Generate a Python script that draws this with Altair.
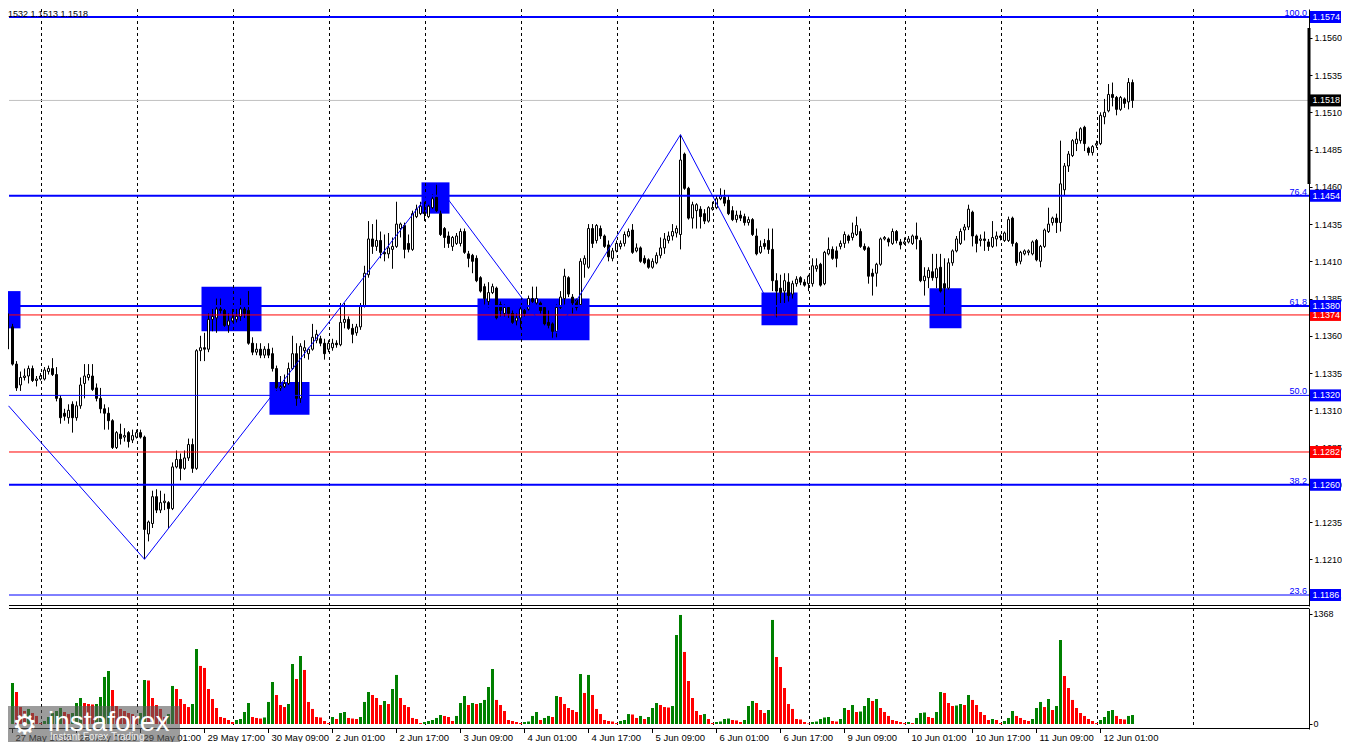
import altair as alt
import pandas as pd

FIRST_BAR = -3  # bar index of the first (left-most) hourly candle; bar 0 = 27 May 17:00

opens = [
    1.1345, 1.1352, 1.1361,
    1.1366, 1.1341, 1.1327, 1.1332, 1.1333, 1.1338, 1.1330, 1.1331, 1.1331, 1.1336,
    1.1338, 1.1334, 1.1318, 1.1308, 1.1305, 1.1314, 1.1305, 1.1313, 1.1328, 1.1332,
    1.1333, 1.1325, 1.1318, 1.1311, 1.1308, 1.1303, 1.1285, 1.1294, 1.1292, 1.1295,
    1.1290, 1.1292, 1.1295, 1.1292, 1.1227, 1.1234, 1.1252, 1.1243, 1.1248, 1.1248,
    1.1244, 1.1272, 1.1277, 1.1271, 1.1278, 1.1287, 1.1271, 1.1350, 1.1352, 1.1351,
    1.1371, 1.1372, 1.1378, 1.1377, 1.1367, 1.1370, 1.1371, 1.1373, 1.1378, 1.1377,
    1.1355, 1.1349, 1.1351, 1.1347, 1.1351, 1.1348, 1.1338, 1.1325, 1.1326, 1.1328,
    1.1338, 1.1348, 1.1318, 1.1350, 1.1348, 1.1351, 1.1357, 1.1358, 1.1355, 1.1351,
    1.1352, 1.1355, 1.1354, 1.1369, 1.1371, 1.1365, 1.1362, 1.1366, 1.1380, 1.1401,
    1.1425, 1.1420, 1.1424, 1.1416, 1.1415, 1.1418, 1.1420, 1.1432, 1.1434, 1.1422,
    1.1418, 1.1440, 1.1442, 1.1443, 1.1440, 1.1446, 1.1453, 1.1442, 1.1432, 1.1427,
    1.1420, 1.1422, 1.1422, 1.1430, 1.1415, 1.1414, 1.1412, 1.1399, 1.1393, 1.1383,
    1.1389, 1.1392, 1.1381, 1.1375, 1.1379, 1.1375, 1.1370, 1.1372, 1.1377, 1.1378,
    1.1385, 1.1382, 1.1382, 1.1379, 1.1369, 1.1368, 1.1363, 1.1379, 1.1385, 1.1399,
    1.1386, 1.1384, 1.1381, 1.1408, 1.1406, 1.1432, 1.1424, 1.1432, 1.1427, 1.1421,
    1.1412, 1.1417, 1.1420, 1.1422, 1.1427, 1.1431, 1.1417, 1.1419, 1.1412, 1.1411,
    1.1406, 1.1409, 1.1414, 1.1419, 1.1424, 1.1427, 1.1429, 1.1428, 1.1482, 1.1459,
    1.1439, 1.1444, 1.1445, 1.1442, 1.1437, 1.1445, 1.1446, 1.1452, 1.1453, 1.1451,
    1.1444, 1.1438, 1.1441, 1.1440, 1.1436, 1.1438, 1.1427, 1.1416, 1.1422, 1.1424,
    1.1418, 1.1397, 1.1392, 1.1390, 1.1396, 1.1388, 1.1395, 1.1399, 1.1396, 1.1395,
    1.1395, 1.1405, 1.1408, 1.1395, 1.1415, 1.1418, 1.1417, 1.1420, 1.1422, 1.1427,
    1.1426, 1.1428, 1.1430, 1.1420, 1.1419, 1.1402, 1.1402, 1.1408, 1.1425, 1.1425,
    1.1422, 1.1430, 1.1423, 1.1422, 1.1423, 1.1422, 1.1427, 1.1424, 1.1397, 1.1399,
    1.1403, 1.1399, 1.1406, 1.1395, 1.1392, 1.1409, 1.1417, 1.1422, 1.1431, 1.1433,
    1.1443, 1.1427, 1.1424, 1.1425, 1.1423, 1.1420, 1.1425, 1.1427, 1.1424, 1.1424,
    1.1439, 1.1422, 1.1410, 1.1415, 1.1416, 1.1415, 1.1424, 1.1410, 1.1420, 1.1430,
    1.1436, 1.1439, 1.1436, 1.1458, 1.1474, 1.1481, 1.1489, 1.1491, 1.1500, 1.1486,
    1.1483, 1.1488, 1.1489, 1.1507, 1.1511, 1.1522, 1.1520, 1.1512, 1.1519, 1.1517,
    1.1530,
]
highs = [
    1.1353, 1.1369, 1.1375,
    1.1368, 1.1343, 1.1336, 1.1338, 1.1340, 1.1340, 1.1333, 1.1335, 1.1339, 1.1340,
    1.1345, 1.1339, 1.1320, 1.1311, 1.1314, 1.1316, 1.1316, 1.1332, 1.1341, 1.1341,
    1.1341, 1.1328, 1.1325, 1.1314, 1.1312, 1.1304, 1.1296, 1.1301, 1.1298, 1.1296,
    1.1297, 1.1297, 1.1297, 1.1293, 1.1236, 1.1256, 1.1257, 1.1256, 1.1254, 1.1249,
    1.1275, 1.1283, 1.1281, 1.1283, 1.1291, 1.1291, 1.1351, 1.1360, 1.1362, 1.1375,
    1.1378, 1.1385, 1.1385, 1.1378, 1.1375, 1.1378, 1.1378, 1.1385, 1.1380, 1.1390,
    1.1359, 1.1355, 1.1355, 1.1353, 1.1355, 1.1352, 1.1340, 1.1333, 1.1334, 1.1342,
    1.1360, 1.1355, 1.1355, 1.1357, 1.1352, 1.1368, 1.1364, 1.1360, 1.1358, 1.1357,
    1.1358, 1.1357, 1.1382, 1.1382, 1.1373, 1.1368, 1.1368, 1.1382, 1.1407, 1.1437,
    1.1435, 1.1438, 1.1430, 1.1428, 1.1429, 1.1426, 1.1450, 1.1436, 1.1436, 1.1428,
    1.1444, 1.1448, 1.1450, 1.1450, 1.1448, 1.1455, 1.1462, 1.1444, 1.1433, 1.1430,
    1.1427, 1.1429, 1.1432, 1.1432, 1.1417, 1.1415, 1.1414, 1.1400, 1.1395, 1.1396,
    1.1395, 1.1393, 1.1383, 1.1381, 1.1380, 1.1377, 1.1375, 1.1380, 1.1378, 1.1387,
    1.1393, 1.1393, 1.1383, 1.1380, 1.1377, 1.1369, 1.1381, 1.1390, 1.1405, 1.1400,
    1.1388, 1.1385, 1.1412, 1.1414, 1.1435, 1.1435, 1.1435, 1.1434, 1.1428, 1.1424,
    1.1419, 1.1424, 1.1424, 1.1430, 1.1432, 1.1435, 1.1422, 1.1420, 1.1414, 1.1412,
    1.1412, 1.1416, 1.1426, 1.1429, 1.1430, 1.1435, 1.1434, 1.1495, 1.1483, 1.1460,
    1.1450, 1.1449, 1.1447, 1.1445, 1.1447, 1.1450, 1.1454, 1.1459, 1.1458, 1.1454,
    1.1447, 1.1444, 1.1444, 1.1442, 1.1440, 1.1439, 1.1432, 1.1424, 1.1425, 1.1432,
    1.1432, 1.1402, 1.1401, 1.1402, 1.1402, 1.1397, 1.1400, 1.1400, 1.1398, 1.1401,
    1.1412, 1.1412, 1.1409, 1.1417, 1.1426, 1.1420, 1.1420, 1.1424, 1.1430, 1.1428,
    1.1436, 1.1440, 1.1432, 1.1422, 1.1420, 1.1405, 1.1409, 1.1426, 1.1427, 1.1426,
    1.1432, 1.1431, 1.1425, 1.1426, 1.1427, 1.1428, 1.1436, 1.1426, 1.1406, 1.1406,
    1.1415, 1.1415, 1.1415, 1.1412, 1.1412, 1.1418, 1.1427, 1.1432, 1.1435, 1.1448,
    1.1444, 1.1428, 1.1428, 1.1430, 1.1425, 1.1437, 1.1430, 1.1428, 1.1430, 1.1440,
    1.1440, 1.1423, 1.1417, 1.1418, 1.1418, 1.1424, 1.1425, 1.1421, 1.1432, 1.1446,
    1.1440, 1.1442, 1.1491, 1.1476, 1.1484, 1.1492, 1.1497, 1.1500, 1.1501, 1.1487,
    1.1488, 1.1491, 1.1510, 1.1519, 1.1529, 1.1530, 1.1521, 1.1521, 1.1520, 1.1533,
    1.1532,
]
lows = [
    1.1342, 1.1351, 1.1351,
    1.1340, 1.1323, 1.1323, 1.1330, 1.1328, 1.1329, 1.1326, 1.1330, 1.1330, 1.1334,
    1.1333, 1.1316, 1.1301, 1.1303, 1.1301, 1.1295, 1.1303, 1.1311, 1.1318, 1.1330,
    1.1323, 1.1316, 1.1308, 1.1297, 1.1297, 1.1284, 1.1284, 1.1287, 1.1289, 1.1285,
    1.1288, 1.1291, 1.1291, 1.1210, 1.1222, 1.1231, 1.1241, 1.1241, 1.1243, 1.1231,
    1.1243, 1.1271, 1.1263, 1.1270, 1.1276, 1.1268, 1.1270, 1.1343, 1.1343, 1.1349,
    1.1363, 1.1362, 1.1375, 1.1366, 1.1362, 1.1369, 1.1369, 1.1370, 1.1372, 1.1354,
    1.1347, 1.1347, 1.1345, 1.1345, 1.1345, 1.1336, 1.1323, 1.1323, 1.1325, 1.1327,
    1.1337, 1.1313, 1.1315, 1.1345, 1.1344, 1.1350, 1.1355, 1.1353, 1.1344, 1.1349,
    1.1350, 1.1352, 1.1353, 1.1365, 1.1364, 1.1355, 1.1360, 1.1364, 1.1379, 1.1399,
    1.1415, 1.1417, 1.1412, 1.1410, 1.1412, 1.1405, 1.1419, 1.1426, 1.1412, 1.1416,
    1.1417, 1.1439, 1.1441, 1.1437, 1.1439, 1.1445, 1.1443, 1.1427, 1.1419, 1.1419,
    1.1417, 1.1421, 1.1420, 1.1415, 1.1406, 1.1402, 1.1396, 1.1389, 1.1381, 1.1379,
    1.1388, 1.1371, 1.1373, 1.1373, 1.1372, 1.1368, 1.1367, 1.1365, 1.1373, 1.1377,
    1.1382, 1.1381, 1.1375, 1.1367, 1.1365, 1.1358, 1.1359, 1.1378, 1.1381, 1.1386,
    1.1375, 1.1377, 1.1380, 1.1399, 1.1405, 1.1419, 1.1422, 1.1425, 1.1419, 1.1410,
    1.1410, 1.1416, 1.1418, 1.1420, 1.1426, 1.1415, 1.1416, 1.1409, 1.1408, 1.1405,
    1.1405, 1.1408, 1.1412, 1.1415, 1.1422, 1.1424, 1.1426, 1.1418, 1.1458, 1.1438,
    1.1432, 1.1432, 1.1432, 1.1435, 1.1436, 1.1444, 1.1445, 1.1451, 1.1447, 1.1441,
    1.1437, 1.1436, 1.1437, 1.1434, 1.1434, 1.1427, 1.1414, 1.1415, 1.1418, 1.1415,
    1.1390, 1.1372, 1.1382, 1.1382, 1.1383, 1.1385, 1.1393, 1.1394, 1.1393, 1.1390,
    1.1393, 1.1403, 1.1393, 1.1394, 1.1414, 1.1411, 1.1406, 1.1418, 1.1419, 1.1422,
    1.1424, 1.1427, 1.1419, 1.1417, 1.1395, 1.1387, 1.1393, 1.1407, 1.1424, 1.1420,
    1.1421, 1.1422, 1.1418, 1.1421, 1.1422, 1.1421, 1.1418, 1.1396, 1.1387, 1.1392,
    1.1397, 1.1392, 1.1389, 1.1375, 1.1391, 1.1407, 1.1416, 1.1421, 1.1424, 1.1431,
    1.1420, 1.1416, 1.1420, 1.1417, 1.1417, 1.1419, 1.1420, 1.1424, 1.1423, 1.1423,
    1.1420, 1.1407, 1.1408, 1.1414, 1.1414, 1.1414, 1.1410, 1.1406, 1.1419, 1.1429,
    1.1434, 1.1429, 1.1430, 1.1454, 1.1470, 1.1480, 1.1484, 1.1489, 1.1484, 1.1481,
    1.1481, 1.1486, 1.1488, 1.1502, 1.1510, 1.1514, 1.1508, 1.1511, 1.1513, 1.1512,
    1.1513,
]
closes = [
    1.1352, 1.1361, 1.1368,
    1.1341, 1.1325, 1.1332, 1.1333, 1.1338, 1.1330, 1.1331, 1.1333, 1.1337, 1.1338,
    1.1334, 1.1318, 1.1305, 1.1306, 1.1310, 1.1305, 1.1313, 1.1327, 1.1333, 1.1334,
    1.1324, 1.1318, 1.1311, 1.1308, 1.1303, 1.1285, 1.1295, 1.1291, 1.1293, 1.1289,
    1.1293, 1.1295, 1.1292, 1.1230, 1.1235, 1.1252, 1.1243, 1.1248, 1.1249, 1.1244,
    1.1272, 1.1277, 1.1271, 1.1278, 1.1287, 1.1271, 1.1350, 1.1352, 1.1351, 1.1371,
    1.1373, 1.1378, 1.1377, 1.1367, 1.1370, 1.1372, 1.1373, 1.1378, 1.1375, 1.1355,
    1.1349, 1.1351, 1.1347, 1.1351, 1.1347, 1.1338, 1.1325, 1.1326, 1.1328, 1.1338,
    1.1348, 1.1318, 1.1353, 1.1352, 1.1351, 1.1359, 1.1361, 1.1355, 1.1348, 1.1355,
    1.1355, 1.1354, 1.1369, 1.1371, 1.1365, 1.1361, 1.1366, 1.1380, 1.1402, 1.1425,
    1.1420, 1.1424, 1.1416, 1.1415, 1.1419, 1.1420, 1.1435, 1.1435, 1.1418, 1.1418,
    1.1442, 1.1445, 1.1447, 1.1442, 1.1447, 1.1452, 1.1444, 1.1428, 1.1426, 1.1422,
    1.1426, 1.1427, 1.1430, 1.1416, 1.1412, 1.1410, 1.1397, 1.1390, 1.1385, 1.1389,
    1.1393, 1.1372, 1.1377, 1.1379, 1.1375, 1.1369, 1.1372, 1.1378, 1.1375, 1.1385,
    1.1383, 1.1385, 1.1377, 1.1368, 1.1367, 1.1363, 1.1379, 1.1386, 1.1400, 1.1388,
    1.1382, 1.1379, 1.1410, 1.1412, 1.1432, 1.1422, 1.1434, 1.1427, 1.1420, 1.1413,
    1.1417, 1.1422, 1.1422, 1.1428, 1.1430, 1.1416, 1.1419, 1.1410, 1.1409, 1.1406,
    1.1410, 1.1414, 1.1419, 1.1425, 1.1427, 1.1430, 1.1432, 1.1478, 1.1459, 1.1439,
    1.1448, 1.1448, 1.1440, 1.1437, 1.1446, 1.1446, 1.1452, 1.1454, 1.1449, 1.1442,
    1.1438, 1.1441, 1.1439, 1.1436, 1.1438, 1.1428, 1.1415, 1.1420, 1.1420, 1.1418,
    1.1397, 1.1390, 1.1389, 1.1397, 1.1387, 1.1395, 1.1398, 1.1396, 1.1394, 1.1400,
    1.1407, 1.1407, 1.1394, 1.1416, 1.1418, 1.1412, 1.1412, 1.1422, 1.1428, 1.1424,
    1.1429, 1.1434, 1.1420, 1.1418, 1.1400, 1.1400, 1.1408, 1.1425, 1.1426, 1.1423,
    1.1430, 1.1424, 1.1421, 1.1423, 1.1425, 1.1427, 1.1425, 1.1397, 1.1400, 1.1404,
    1.1399, 1.1405, 1.1390, 1.1392, 1.1409, 1.1417, 1.1425, 1.1430, 1.1433, 1.1445,
    1.1427, 1.1422, 1.1425, 1.1424, 1.1420, 1.1426, 1.1427, 1.1426, 1.1429, 1.1438,
    1.1422, 1.1409, 1.1416, 1.1417, 1.1417, 1.1423, 1.1411, 1.1420, 1.1431, 1.1435,
    1.1439, 1.1436, 1.1462, 1.1474, 1.1482, 1.1491, 1.1492, 1.1499, 1.1489, 1.1483,
    1.1487, 1.1489, 1.1508, 1.1510, 1.1522, 1.1520, 1.1512, 1.1520, 1.1516, 1.1530,
    1.1518,
]
volumes = [
    224, 299, 373,
    510, 398, 211, 162, 187, 137, 100, 12, 37, 87,
    137, 162, 199, 149, 124, 137, 261, 323, 261, 249,
    243, 249, 336, 585, 659, 423, 224, 187, 162, 137,
    124, 100, 137, 547, 541, 323, 236, 187, 87, 124,
    473, 435, 311, 249, 211, 249, 933, 722, 697, 435,
    311, 199, 87, 75, 50, 25, 50, 62, 149, 261,
    87, 75, 68, 81, 274, 522, 361, 236, 211, 249,
    746, 560, 846, 672, 274, 187, 87, 81, 37, 12,
    87, 62, 137, 149, 75, 68, 62, 87, 274, 398,
    361, 323, 236, 286, 249, 435, 610, 323, 236, 211,
    75, 62, 12, 25, 37, 50, 75, 112, 100, 87,
    37, 100, 261, 348, 236, 261, 249, 261, 299, 460,
    684, 299, 236, 162, 50, 37, 25, 12, 25, 31,
    100, 149, 50, 75, 100, 87, 348, 336, 249, 199,
    174, 149, 622, 386, 610, 361, 187, 124, 50, 37,
    31, 12, 37, 50, 124, 118, 75, 100, 62, 87,
    199, 261, 236, 211, 205, 224, 1107, 1356, 896, 535,
    323, 162, 112, 124, 62, 12, 25, 31, 62, 68,
    50, 44, 25, 50, 224, 286, 261, 174, 137, 174,
    1294, 833, 709, 448, 249, 187, 62, 56, 25, 6,
    25, 31, 62, 81, 87, 37, 31, 62, 199, 174,
    236, 149, 155, 224, 323, 286, 311, 199, 149, 100,
    50, 37, 25, 12, 25, 12, 75, 137, 143, 87,
    75, 149, 398, 386, 261, 224, 230, 249, 236, 361,
    299, 236, 149, 112, 50, 62, 50, 12, 37, 75,
    162, 100, 75, 50, 37, 62, 199, 274, 211, 311,
    174, 224, 1045, 597, 448, 299, 199, 137, 100, 62,
    37, 12, 50, 87, 162, 174, 100, 62, 56, 100,
    112,
]

n_bars = len(opens)
assert len(highs) == n_bars and len(lows) == n_bars and len(closes) == n_bars and len(volumes) == n_bars, (
    len(opens), len(highs), len(lows), len(closes), len(volumes))

# time axis labels (every 16 hourly bars)
label_bars = [0, 16, 32, 48, 64, 80, 96, 112, 128, 144, 160, 176, 192, 208, 224, 240, 256, 272]
label_texts = ["27 May 17:00", "28 May 09:00", "29 May 01:00", "29 May 17:00", "30 May 09:00",
               "2 Jun 01:00", "2 Jun 17:00", "3 Jun 09:00", "4 Jun 01:00", "4 Jun 17:00",
               "5 Jun 09:00", "6 Jun 01:00", "6 Jun 17:00", "9 Jun 09:00", "10 Jun 01:00",
               "10 Jun 17:00", "11 Jun 09:00", "12 Jun 01:00"]
grid_bars = [7.25, 31.25, 55.25, 79.25, 103.25, 127.25, 151.25, 175.25, 199.25,
             223.25, 247.25, 271.25, 295.25]
price_ticks = [1.1185, 1.1210, 1.1235, 1.1260, 1.1285, 1.1310, 1.1335, 1.1360,
               1.1385, 1.1410, 1.1435, 1.1460, 1.1485, 1.1510, 1.1535, 1.1560]
volume_ticks = [0, 1368]

fib_prices = [1.1574, 1.1454, 1.1380, 1.1320, 1.1260, 1.1186]
fib_names = ["100.0", "76.4", "61.8", "50.0", "38.2", "23.6"]
major_fibs = ["100.0", "76.4", "61.8", "38.2"]
red_prices = [1.1374, 1.1282]
bid_price = [1.1518]

# zig-zag through the swing points (first point = where the line enters at the left edge)
zz_bars = [-1, 33, 106, 135, 167, 191]
zz_prices = [1.1313, 1.1210, 1.1462, 1.1358, 1.1495, 1.1372]

box_from = [-3.0, 47.25, 64.25, 102.25, 116.25, 187.25, 229.25]
box_to = [2.0, 62.25, 74.25, 109.25, 144.25, 196.25, 237.25]
box_high = [1.1390, 1.1393, 1.1329, 1.1463, 1.1385, 1.1389, 1.1392]
box_low = [1.1365, 1.1363, 1.1307, 1.1442, 1.1357, 1.1367, 1.1365]

header_text = "1532 1.1513 1.1518"

# ---------------------------------------------------------------- tables
bars = list(range(FIRST_BAR, FIRST_BAR + n_bars))
candles = pd.DataFrame({"bar": bars, "open": opens, "high": highs, "low": lows, "close": closes})
vol_df = pd.DataFrame({"bar": bars, "volume": volumes})
vol_df["rising"] = vol_df["volume"].diff().fillna(0) > 0
grid_df = pd.DataFrame({"bar": grid_bars})
lab_df = pd.DataFrame({"bar": label_bars, "label": label_texts})
fib_df = pd.DataFrame({"price": fib_prices, "name": fib_names})
red_df = pd.DataFrame({"price": red_prices})
bid_df = pd.DataFrame({"price": bid_price})
zz_df = pd.DataFrame({"i": list(range(len(zz_bars))), "bar": zz_bars, "price": zz_prices})
box_df = pd.DataFrame({"x1": box_from, "x2": box_to, "hi": box_high, "lo": box_low})
one = pd.DataFrame({"t": [header_text]})

# ---------------------------------------------------------------- layout
W = 1301
H_PRICE = 597
H_VOL = 121
FONT = "Liberation Sans"
FS = 9
FS_X = 9.5
BLUE, RED, GREEN = "#0000FF", "#FF0000", "#008000"

x_scale = alt.Scale(domain=[-1.125, 324.125], nice=False, zero=False, clamp=True, padding=0)
y_scale = alt.Scale(domain=[1.117862, 1.157937], nice=False, zero=False, padding=0)
v_scale = alt.Scale(domain=[-62.2, 1442.6], nice=False, zero=False, padding=0)

price_axis = alt.Axis(orient="right", values=price_ticks, format=".4f", tickSize=3,
                      labelPadding=2, grid=False, title=None, labelOverlap=False,
                      labelFont=FONT, labelFontSize=FS, labelColor="black",
                      domainColor="black", tickColor="black", zindex=0)
vol_axis = alt.Axis(orient="right", values=volume_ticks, format="d", tickSize=3,
                    labelPadding=1, grid=False, title=None, labelOverlap=False,
                    labelFont=FONT, labelFontSize=FS, labelColor="black",
                    domainColor="black", tickColor="black")


def X(field):
    return alt.X(field, type="quantitative", scale=x_scale, axis=None)


def Y(field):
    return alt.Y(field, type="quantitative", scale=y_scale, axis=price_axis)


grid_p = alt.Chart(grid_df).mark_rule(color="black", strokeDash=[3, 3], strokeWidth=1).encode(x=X("bar"))

boxes = alt.Chart(box_df).mark_rect(color=BLUE, opacity=1, clip=True).encode(
    x=X("x1"), x2="x2", y=Y("hi"), y2="lo")


def hline(chart, colour, width=1):
    return chart.mark_rule(color=colour, strokeWidth=width).encode(
        x=alt.value(1), x2=alt.value(W), y=Y("price"))


bid_rule = hline(alt.Chart(bid_df), "#C0C0C0")
fib_major = hline(alt.Chart(fib_df).transform_filter(
    alt.FieldOneOfPredicate(field="name", oneOf=major_fibs)), BLUE, 2)
fib_minor = hline(alt.Chart(fib_df).transform_filter(
    {"not": alt.FieldOneOfPredicate(field="name", oneOf=major_fibs)}), BLUE, 1)
red_rules = hline(alt.Chart(red_df), RED)

wicks = alt.Chart(candles).transform_filter("datum.bar >= -1").mark_rule(
    color="black", strokeWidth=1, clip=True).encode(
    x=X("bar"), y=Y("low"), y2="high")
bodies = alt.Chart(candles).transform_filter("datum.bar >= 0").mark_bar(
    size=2, stroke="black", strokeWidth=1, clip=True).encode(
    x=X("bar"), y=Y("open"), y2="close",
    fill=alt.condition("datum.close >= datum.open", alt.value("white"), alt.value("black")))

zigzag = alt.Chart(zz_df).mark_line(color=BLUE, strokeWidth=1, clip=True).encode(
    x=X("bar"), y=Y("price"), order=alt.Order("i:Q"))

fib_text = alt.Chart(fib_df).mark_text(align="right", baseline="alphabetic", dy=-1, color=BLUE,
                                       font=FONT, fontSize=FS).encode(
    x=alt.value(1299), y=Y("price"), text="name:N")


def price_tag(df, colour):
    rect = alt.Chart(df).mark_rect(color=colour, opacity=1, yOffset=-6, y2Offset=6).encode(
        x=alt.value(1302), x2=alt.value(1333), y=Y("price"), y2="price")
    txt = alt.Chart(df).mark_text(align="left", baseline="middle", color="white",
                                  font=FONT, fontSize=FS).encode(
        x=alt.value(1304.5), y=Y("price"), text=alt.Text("price:Q", format=".4f"))
    return [rect, txt]


header = alt.Chart(one).mark_text(align="left", baseline="top", color="black",
                                  font=FONT, fontSize=FS).encode(
    x=alt.value(0), y=alt.value(1), text="t:N")
bottom_line = alt.Chart(one).mark_rule(color="black").encode(
    x=alt.value(1), x2=alt.value(W), y=alt.value(H_PRICE - 0.5))
axis_bar = alt.Chart(one).mark_rule(color="black", strokeWidth=3).encode(
    x=alt.value(W), y=alt.value(19), y2=alt.value(175))

price_panel = alt.layer(
    boxes, grid_p, bid_rule, wicks, bodies, fib_major, fib_minor, red_rules, zigzag, fib_text,
    *price_tag(red_df, RED), *price_tag(fib_df, BLUE), *price_tag(bid_df, "black"),
    header, bottom_line, axis_bar,
).properties(width=W, height=H_PRICE)

# ---------------------------------------------------------------- volume panel
grid_v = alt.Chart(grid_df).mark_rule(color="black", strokeDash=[3, 3], strokeWidth=1).encode(x=X("bar"))
vbars = alt.Chart(vol_df).transform_filter("datum.bar >= 0").mark_bar(size=3, clip=True).encode(
    x=X("bar"),
    y=alt.Y("volume:Q", scale=v_scale, axis=vol_axis),
    y2=alt.datum(0),
    color=alt.condition("datum.rising", alt.value(GREEN), alt.value(RED)))
top_line_v = alt.Chart(one).mark_rule(color="black").encode(
    x=alt.value(1), x2=alt.value(W), y=alt.value(0.5))
bottom_line_v = alt.Chart(one).mark_rule(color="black").encode(
    x=alt.value(1), x2=alt.value(W), y=alt.value(H_VOL - 0.5))
xticks = alt.Chart(lab_df).mark_rule(color="black").encode(
    x=X("bar"), y=alt.value(H_VOL), y2=alt.value(H_VOL + 4))
xlabels = alt.Chart(lab_df).mark_text(align="left", baseline="middle", dx=3, color="black",
                                      font=FONT, fontSize=FS_X).encode(
    x=X("bar"), y=alt.value(129.5), text="label:N")

logo_rect = alt.Chart(one).mark_rect(color="#5a5a5a", opacity=0.6).encode(
    x=alt.value(0), x2=alt.value(172), y=alt.value(98), y2=alt.value(134))
logo_icon = alt.Chart(one).mark_text(align="left", baseline="alphabetic", color="white",
                                     font="DejaVu Sans", fontSize=28).encode(
    x=alt.value(4), y=alt.value(126), text=alt.value("\u2699"))
logo_word = alt.Chart(one).mark_text(align="left", baseline="alphabetic", color="white",
                                     font=FONT, fontSize=28).encode(
    x=alt.value(40), y=alt.value(123), text=alt.value("instaforex"))
logo_sub = alt.Chart(one).mark_text(align="left", baseline="alphabetic", color="#eeeeee",
                                    font=FONT, fontSize=10).encode(
    x=alt.value(42), y=alt.value(132), text=alt.value("Instant Forex Trading"))

vol_panel = alt.layer(
    grid_v, vbars, top_line_v, bottom_line_v, xticks, xlabels,
    logo_rect, logo_icon, logo_word, logo_sub,
).properties(width=W, height=H_VOL)

chart = alt.vconcat(price_panel, vol_panel, spacing=2, bounds="flush").properties(
    padding={"left": 0, "top": 0, "right": 0, "bottom": 0}, background="white"
).configure_view(stroke=None)

chart.save("out.html", embed_options={"renderer": "svg", "actions": False})
